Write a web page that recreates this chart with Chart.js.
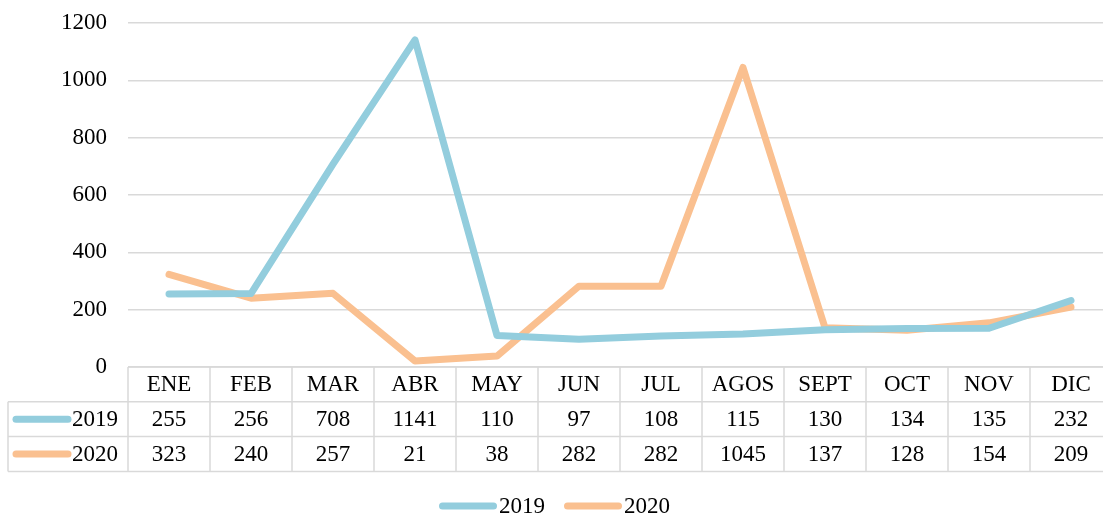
<!DOCTYPE html>
<html>
<head>
<meta charset="utf-8">
<script src="https://cdn.jsdelivr.net/npm/chart.js@4.4.1/dist/chart.umd.min.js"></script>
<style>
  html, body { margin: 0; padding: 0; background: #fff; overflow: hidden; }
  #wrap { width: 1103px; height: 517px; overflow: hidden; }
</style>
</head>
<body>
<div id="wrap"><canvas id="ventas" width="1112" height="517"></canvas></div>
<script>
var meses = ["ENE", "FEB", "MAR", "ABR", "MAY", "JUN", "JUL", "AGOS", "SEPT", "OCT", "NOV", "DIC"];
var valores2019 = [255, 256, 708, 1141, 110, 97, 108, 115, 130, 134, 135, 232];
var valores2020 = [323, 240, 257, 21, 38, 282, 282, 1045, 137, 128, 154, 209];
var yTicks = [0, 200, 400, 600, 800, 1000, 1200];
var color2019 = "#93CDDD";
var color2020 = "#FAC090";
var fuente = "23px 'Liberation Serif', 'Times New Roman', serif";
var gris = "#d9d9d9";

// draws the data table under the plot plus the legend at the bottom
var tablaPlugin = {
  id: "tabla",
  afterDraw: function (chart) {
    var ctx = chart.ctx;
    var area = chart.chartArea;
    var x = chart.scales.x;
    var colW = (area.right - area.left) / meses.length;
    var top = area.bottom;
    var rowH = 34.8;
    var r1 = top + rowH, r2 = top + rowH * 2, r3 = top + rowH * 3;
    var leftEdge = 8;

    ctx.save();
    ctx.strokeStyle = gris;
    ctx.lineWidth = 1.5;
    ctx.beginPath();
    ctx.moveTo(area.left, top); ctx.lineTo(area.right, top);
    [r1, r2, r3].forEach(function (y) {
      ctx.moveTo(leftEdge, y); ctx.lineTo(area.right, y);
    });
    ctx.moveTo(leftEdge, r1); ctx.lineTo(leftEdge, r3);
    for (var i = 0; i <= meses.length; i++) {
      var cx = area.left + i * colW;
      ctx.moveTo(cx, top); ctx.lineTo(cx, r3);
    }
    ctx.stroke();

    ctx.font = fuente;
    ctx.fillStyle = "#000";
    ctx.textAlign = "center";
    ctx.textBaseline = "middle";
    var ds = chart.data.datasets;
    meses.forEach(function (m, i) {
      var px = x.getPixelForValue(i);
      ctx.fillText(m, px, top + rowH / 2 + 1);
      ctx.fillText(String(ds[0].data[i]), px, r1 + rowH / 2 + 1);
      ctx.fillText(String(ds[1].data[i]), px, r2 + rowH / 2 + 1);
    });

    // row headers
    ctx.lineCap = "round";
    ctx.lineWidth = 7;
    ds.forEach(function (d, k) {
      var yc = (k === 0 ? r1 : r2) + rowH / 2;
      ctx.strokeStyle = d.borderColor;
      ctx.beginPath();
      ctx.moveTo(16, yc); ctx.lineTo(68, yc);
      ctx.stroke();
      ctx.textAlign = "left";
      ctx.fillText(d.label, 72, yc + 1);
    });

    // legend
    var itemW = 58 + 2 + ctx.measureText("2019").width;
    var gap = 19;
    var total = itemW * ds.length + gap * (ds.length - 1);
    var lx = 1103 / 2 - total / 2 + 3;
    var ly = 506;
    ds.forEach(function (d) {
      ctx.strokeStyle = d.borderColor;
      ctx.beginPath();
      ctx.moveTo(lx + 3.5, ly); ctx.lineTo(lx + 54.5, ly);
      ctx.stroke();
      ctx.textAlign = "left";
      ctx.fillText(d.label, lx + 60, ly + 1);
      lx += itemW + gap;
    });
    ctx.restore();
  }
};

new Chart("ventas", {
  type: "line",
  data: {
    labels: meses,
    datasets: [
      {
        label: "2019",
        data: valores2019,
        borderColor: color2019,
        backgroundColor: color2019,
        borderWidth: 7,
        borderCapStyle: "round",
        borderJoinStyle: "round",
        pointRadius: 0,
        tension: 0,
      },
      {
        label: "2020",
        data: valores2020,
        borderColor: color2020,
        backgroundColor: color2020,
        borderWidth: 7,
        borderCapStyle: "round",
        borderJoinStyle: "round",
        pointRadius: 0,
        tension: 0,
      },
    ],
  },
  options: {
    responsive: false,
    animation: false,
    layout: { padding: { top: 23, right: 0, bottom: 0, left: 0 } },
    plugins: {
      legend: { display: false },
      tooltip: { enabled: false },
    },
    scales: {
      x: {
        offset: true,
        grid: { display: false },
        border: { display: false },
        ticks: { display: false },
        afterFit: function (s) { s.height = 150; },
      },
      y: {
        min: 0,
        max: 1200,
        afterBuildTicks: function (s) {
          s.ticks = yTicks.map(function (v) { return { value: v }; });
        },
        afterFit: function (s) {
          s.width = 128;
          s.paddingTop = 0;
          s.paddingBottom = 0;
        },
        grid: { color: gris, lineWidth: 1.5, drawTicks: false },
        border: { display: false },
        ticks: {
          padding: 21,
          color: "#000",
          font: { family: "'Liberation Serif', 'Times New Roman', serif", size: 23 },
          callback: function (v) { return String(v); },
        },
      },
    },
  },
  plugins: [tablaPlugin],
});
</script>
</body>
</html>
